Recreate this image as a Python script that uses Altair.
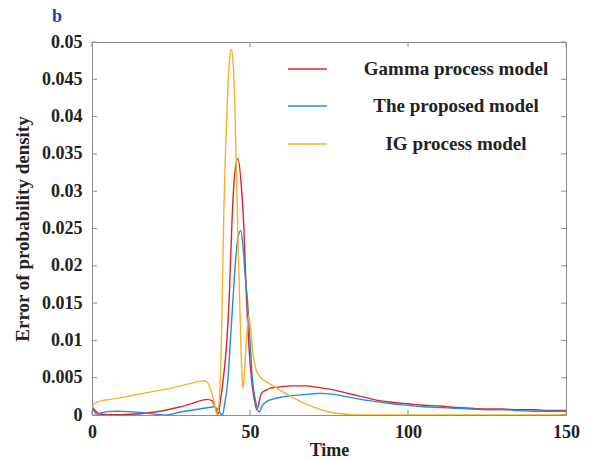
import altair as alt
import pandas as pd

series = ["Gamma process model", "The proposed model", "IG process model"]
colors = ["#d42a2f", "#2a8ad4", "#f3b42c"]

gamma_t = [0, 1, 2, 3, 5, 8, 12, 16, 20, 24, 28, 32, 35, 36.5, 38, 39, 39.9, 40.5,
           41.5, 42.5, 43.4, 44.3, 45.2, 46.2, 47.2, 48.1, 48.9, 49.7, 50.5, 51.3,
           52.2, 53, 53.6, 55, 56.5, 58, 60, 63, 66, 68, 70, 73, 76, 80, 85, 90, 95,
           100, 105, 110, 115, 120, 125, 130, 135, 140, 145, 150]
gamma_v = [0.0011, 0.0006, 0.0002, 0.0001, 0.00005, 0.00005, 0.0001, 0.0002, 0.0004,
           0.0007, 0.0011, 0.0016, 0.0020, 0.0021, 0.0019, 0.0010, 0.0001, 0.0015,
           0.0047, 0.0090, 0.0154, 0.0260, 0.0325, 0.0344, 0.0310, 0.0248, 0.0154,
           0.0090, 0.0047, 0.0022, 0.0007, 0.0020, 0.0029, 0.0033, 0.0036, 0.0037,
           0.0038, 0.0039, 0.0039, 0.0039, 0.0038, 0.0036, 0.0034, 0.0030, 0.0025,
           0.0020, 0.0017, 0.0015, 0.0013, 0.0012, 0.0010, 0.0009, 0.0008, 0.0008,
           0.0007, 0.0007, 0.0006, 0.0006]

prop_t = [0, 0.7, 1.5, 3, 5, 8, 12, 16, 19, 22, 23, 25, 28, 31, 34, 37, 38.5, 39.5,
          40.5, 41.3, 42, 43, 43.8, 44.6, 45.5, 46.3, 47.1, 47.8, 48.5, 49.2, 50,
          50.8, 51.8, 52.9, 53.8, 55.2, 57, 60, 63, 66, 69, 72, 76, 80, 85, 90, 95,
          100, 105, 110, 115, 120, 125, 130, 135, 140, 145, 150]
prop_v = [0.0011, 0.0005, 0.0001, 0.0003, 0.00045, 0.0005, 0.00045, 0.0003, 0.00015,
          0.00003, 0.0, 0.0001, 0.0004, 0.0006, 0.0008, 0.0010, 0.0011, 0.0009,
          0.0003, 0.0, 0.0015, 0.0047, 0.0100, 0.0154, 0.0210, 0.0240, 0.0247,
          0.0225, 0.0185, 0.0154, 0.0100, 0.0047, 0.0018, 0.0004, 0.0012, 0.0018,
          0.0021, 0.0024, 0.0026, 0.0027, 0.0028, 0.0029, 0.0028, 0.0025, 0.0021,
          0.0018, 0.0015, 0.0013, 0.0011, 0.0010, 0.0009, 0.0008, 0.0007, 0.0007,
          0.0006, 0.0005, 0.0005, 0.0005]

ig_t = [0, 0.5, 1.5, 3, 6, 10, 15, 20, 25, 30, 34, 35.5, 36.5, 37.5, 38.5, 39.6,
        40.6, 41.2, 41.7, 42.3, 43, 43.6, 44.1, 44.7, 45.3, 45.9, 46.5, 47, 47.5,
        47.8, 48.3, 49, 49.6, 50.3, 51, 52, 53, 55, 57, 60, 63, 66, 70, 74, 78, 82,
        86, 100, 120, 150]
ig_v = [0.0010, 0.0014, 0.0017, 0.0019, 0.0021, 0.0024, 0.0028, 0.0032, 0.0036,
        0.0041, 0.0045, 0.0046, 0.0044, 0.0035, 0.0020, 0.0, 0.0047, 0.0150, 0.0270,
        0.0360, 0.0440, 0.0480, 0.0490, 0.0470, 0.0400, 0.0288, 0.0190, 0.0110,
        0.0050, 0.0036, 0.0060, 0.0110, 0.0134, 0.0110, 0.0080, 0.0060, 0.0052,
        0.0045, 0.0040, 0.0032, 0.0025, 0.0018, 0.0011, 0.0005, 0.0002, 0.00005,
        0.0, 0.0, 0.0, 0.0]

x_ticks = [0, 50, 100, 150]
y_ticks = [0, 0.005, 0.01, 0.015, 0.02, 0.025, 0.03, 0.035, 0.04, 0.045, 0.05]

rows = []
for name, ts, vs in zip(series, [gamma_t, prop_t, ig_t], [gamma_v, prop_v, ig_v]):
    for t, v in zip(ts, vs):
        rows.append({"series": name, "t": t, "v": v})
df = pd.DataFrame(rows)

W, H = 474, 373
FONT = "Liberation Serif"
GRAY = "#8c8c8c"
TXT = "#222222"

x_scale = alt.Scale(domain=[0, 150], nice=False, zero=False)
y_scale = alt.Scale(domain=[0, 0.05], nice=False, zero=False)

x_axis = alt.Axis(values=x_ticks, labelPadding=8, titlePadding=0, titleFontSize=18,
                  labelFlush=False, labelOverlap=False)
y_axis = alt.Axis(values=y_ticks, format="~g", labelPadding=10, titlePadding=9,
                  titleFontSize=19, labelFlush=False, labelOverlap=False)

lines = alt.Chart(df).mark_line(strokeWidth=1.4, interpolate="monotone", clip=True).encode(
    x=alt.X("t:Q", scale=x_scale, title="Time", axis=x_axis),
    y=alt.Y("v:Q", scale=y_scale, title="Error of probability density", axis=y_axis),
    color=alt.Color("series:N", scale=alt.Scale(domain=series, range=colors), legend=None),
)

xt = pd.DataFrame({"t": x_ticks})
yt = pd.DataFrame({"v": y_ticks})
tick_x_bottom = alt.Chart(xt).mark_rule(color=GRAY, strokeWidth=1).encode(
    x=alt.X("t:Q", scale=x_scale, title="Time", axis=x_axis),
    y=alt.value(H), y2=alt.value(H - 5))
tick_x_top = alt.Chart(xt).mark_rule(color=GRAY, strokeWidth=1).encode(
    x=alt.X("t:Q", scale=x_scale, title="Time", axis=x_axis),
    y=alt.value(0), y2=alt.value(5))
tick_y_left = alt.Chart(yt).mark_rule(color=GRAY, strokeWidth=1).encode(
    y=alt.Y("v:Q", scale=y_scale, title="Error of probability density", axis=y_axis),
    x=alt.value(0), x2=alt.value(5))
tick_y_right = alt.Chart(yt).mark_rule(color=GRAY, strokeWidth=1).encode(
    y=alt.Y("v:Q", scale=y_scale, title="Error of probability density", axis=y_axis),
    x=alt.value(W - 5), x2=alt.value(W))

legend_layers = []
leg_y = [27, 64, 102]
for name, col, yy in zip(series, colors, leg_y):
    d = pd.DataFrame({"name": [name]})
    legend_layers.append(
        alt.Chart(d).mark_rule(color=col, strokeWidth=1.4).encode(
            x=alt.value(196), x2=alt.value(235), y=alt.value(yy)))
    legend_layers.append(
        alt.Chart(d).mark_text(font=FONT, fontWeight="bold", fontSize=19, color=TXT,
                               align="center", baseline="middle").encode(
            text="name:N", x=alt.value(364), y=alt.value(yy)))

panel = pd.DataFrame({"label": ["b"]})
panel_text = alt.Chart(panel).mark_text(font=FONT, fontWeight="bold", fontSize=18,
                                        color="#1f3fb0", align="left",
                                        baseline="alphabetic").encode(
    text="label:N", x=alt.value(-40), y=alt.value(-20))

chart = alt.layer(lines, tick_x_bottom, tick_x_top, tick_y_left, tick_y_right,
                  *legend_layers, panel_text).properties(
    width=W, height=H,
    padding={"left": 92, "top": 42, "right": 30, "bottom": 44},
    autosize=alt.AutoSizeParams(type="none"),
).configure_view(stroke=GRAY, strokeWidth=1).configure_axis(
    domain=False, ticks=False, grid=False, labelOverlap=False, labelFlush=False,
    labelFont=FONT, labelFontWeight="bold", labelFontSize=18, labelColor=TXT,
    titleFont=FONT, titleFontWeight="bold", titleColor=TXT,
)

chart.save("out.html", embed_options={"renderer": "svg", "actions": False})
